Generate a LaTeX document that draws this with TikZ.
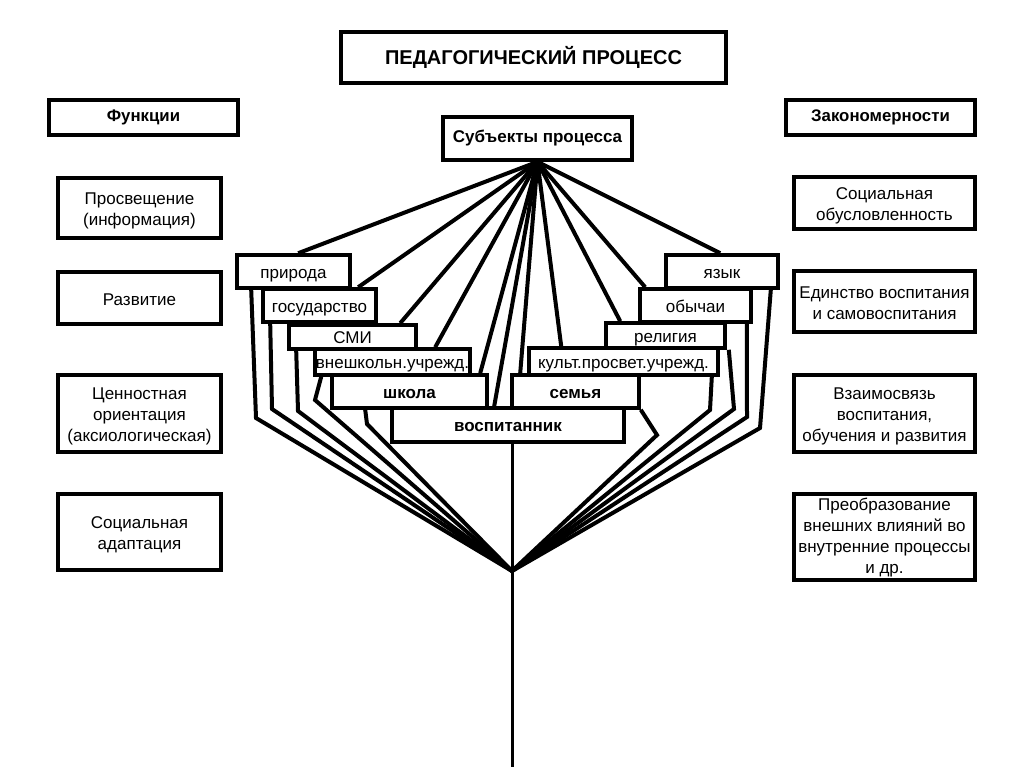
\documentclass[tikz,border=0pt]{standalone}
\usepackage{fontspec}
\setmainfont{Liberation Sans}
\newcommand{\lowtext}[2][-3pt]{\raisebox{#1}[\height][\depth]{\begin{tabular}{@{}c@{}}#2\end{tabular}}}
\begin{document}
\begin{tikzpicture}[x=1pt,y=-1pt,
  box/.style={draw, line width=3.6pt, fill=white, inner sep=0pt, align=center, font=\fontsize{17}{21}\selectfont},
  sbox/.style={draw, line width=3.6pt, fill=white, inner sep=0pt, font=\fontsize{17}{21}\selectfont},
  cbox/.style={draw, line width=3.6pt, fill=white, inner sep=0pt, font=\fontsize{17}{18}\selectfont, text height=13pt, text depth=0pt},
  bbox/.style={cbox, font=\fontsize{17}{18}\selectfont\bfseries},
  hbox/.style={box, font=\fontsize{16.8}{18}\selectfont\bfseries},
  conn/.style={line width=4pt, line join=miter},
]
\useasboundingbox[fill=white] (0,0) rectangle (1024,767);
\coordinate (conv) at (512,571);
\coordinate (bot) at (512,767);

% side boxes
\node[box, font=\fontsize{20}{22}\selectfont\bfseries, minimum width=385pt, minimum height=51pt] (title) at (533.5,57.5) {ПЕДАГОГИЧЕСКИЙ ПРОЦЕСС};
\node[hbox, minimum width=189pt, minimum height=35pt] (func) at (143.5,117.5) {Функции};
\node[hbox, minimum width=189pt, minimum height=35pt] (zak) at (880.5,117.5) {Закономерности};

\node[sbox, minimum width=163pt, minimum height=60pt] (l1) at (139.5,208) {\lowtext{Просвещение\\(информация)}};
\node[sbox, minimum width=163pt, minimum height=52pt] (l2) at (139.5,298) {\lowtext{Развитие}};
\node[sbox, minimum width=163pt, minimum height=77pt] (l3) at (139.5,413.5) {\lowtext{Ценностная\\ориентация\\(аксиологическая)}};
\node[sbox, minimum width=163pt, minimum height=76pt] (l4) at (139.5,532) {\lowtext{Социальная\\адаптация}};

\node[sbox, minimum width=181pt, minimum height=52pt] (r1) at (884.5,203) {\lowtext{Социальная\\обусловленность}};
\node[sbox, minimum width=181pt, minimum height=61pt] (r2) at (884.5,301.5) {\lowtext{Единство воспитания\\и самовоспитания}};
\node[sbox, minimum width=181pt, minimum height=77pt] (r3) at (884.5,413.5) {\lowtext{Взаимосвязь\\воспитания,\\обучения и развития}};
\node[sbox, minimum width=181pt, minimum height=86pt] (r4) at (884.5,537) {\lowtext[-0.5pt]{Преобразование\\внешних влияний во\\внутренние процессы\\и др.}};

\node[hbox, font=\fontsize{17}{18}\selectfont\bfseries, minimum width=189pt, minimum height=43pt] (sub) at (537.5,138.5) {Субъекты процесса};

% central boxes: frames named here, drawn later on top of connectors
\path
  node[cbox, draw=none, fill=none, minimum width=113pt, minimum height=33pt] (priroda) at (293.5,271.5) {}
  node[cbox, draw=none, fill=none, minimum width=113pt, minimum height=33pt] (gos) at (319.5,305.5) {}
  node[cbox, draw=none, fill=none, minimum width=127pt, minimum height=24pt] (smi) at (352.5,337) {}
  node[cbox, draw=none, fill=none, minimum width=155pt, minimum height=26pt] (vnesh) at (392.5,362) {}
  node[cbox, draw=none, fill=none, minimum width=155pt, minimum height=33pt] (shkola) at (409.5,391.5) {}
  node[cbox, draw=none, fill=none, minimum width=232pt, minimum height=34pt] (vosp) at (508,425) {}
  node[cbox, draw=none, fill=none, minimum width=127pt, minimum height=33pt] (semya) at (575.5,391.5) {}
  node[cbox, draw=none, fill=none, minimum width=189pt, minimum height=27pt] (kult) at (623.5,361.5) {}
  node[cbox, draw=none, fill=none, minimum width=119pt, minimum height=25pt] (relig) at (665.5,335.5) {}
  node[cbox, draw=none, fill=none, minimum width=111pt, minimum height=33pt] (obych) at (695.5,305.5) {}
  node[cbox, draw=none, fill=none, minimum width=112pt, minimum height=33pt] (yazyk) at (722,271.5) {};

% connectors from the subjects box
\draw[conn] (sub.south) -- ([xshift=63pt]priroda.north west);
\draw[conn] (sub.south) -- ([xshift=97pt]gos.north west);
\draw[conn] (sub.south) -- ([xshift=113pt]smi.north west);
\draw[conn] (sub.south) -- ([xshift=122pt]vnesh.north west);
\draw[conn] (sub.south) -- ([xshift=150pt]shkola.north west);
\draw[conn] (sub.south) -- ([xshift=104pt]vosp.north west);
\draw[conn] (sub.south) -- ([xshift=10pt]semya.north west);
\draw[conn] (sub.south) -- ([xshift=34pt]kult.north west);
\draw[conn] (sub.south) -- ([xshift=16pt]relig.north west);
\draw[conn] (sub.south) -- ([xshift=7pt]obych.north west);
\draw[conn] (sub.south) -- ([xshift=56pt]yazyk.north west);

% connectors down to the convergence point
\draw[conn] ([xshift=16pt]priroda.south west) -- (256,418) -- (conv);
\draw[conn] ([xshift=9pt]gos.south west) -- (272,409) -- (conv);
\draw[conn] ([xshift=9pt]smi.south west) -- (298,411) -- (conv);
\draw[conn] ([xshift=8pt]vnesh.south west) -- (315,400) -- (conv);
\draw[conn] ([xshift=35pt]shkola.south west) -- (367,424) -- (conv);
\draw[conn] (semya.south east) -- (657,435) -- (conv);
\draw[conn] ([xshift=-8pt]kult.south east) -- (710,410) -- (conv);
\draw[conn] ([xshift=2pt]relig.south east) -- (734,409) -- (conv);
\draw[conn] ([xshift=-6pt]obych.south east) -- (747,417) -- (conv);
\draw[conn] ([xshift=-9pt]yazyk.south east) -- (760,428) -- (conv);
\draw[line width=3pt] (conv |- vosp.south) -- (bot);

% central boxes on top
\node[cbox, minimum width=113pt, minimum height=33pt] at (priroda) {природа};
\node[cbox, minimum width=113pt, minimum height=33pt] at (gos) {государство};
\node[cbox, minimum width=127pt, minimum height=24pt] at (smi) {СМИ};
\node[cbox, minimum width=155pt, minimum height=26pt] at (vnesh) {внешкольн.учрежд.};
\node[bbox, minimum width=155pt, minimum height=33pt] at (shkola) {школа};
\node[bbox, minimum width=232pt, minimum height=34pt] at (vosp) {воспитанник};
\node[bbox, minimum width=127pt, minimum height=33pt] at (semya) {семья};
\node[cbox, minimum width=189pt, minimum height=27pt] at (kult) {культ.просвет.учрежд.};
\node[cbox, minimum width=119pt, minimum height=25pt] at (relig) {религия};
\node[cbox, minimum width=111pt, minimum height=33pt] at (obych) {обычаи};
\node[cbox, minimum width=112pt, minimum height=33pt] at (yazyk) {язык};

\end{tikzpicture}
\end{document}
